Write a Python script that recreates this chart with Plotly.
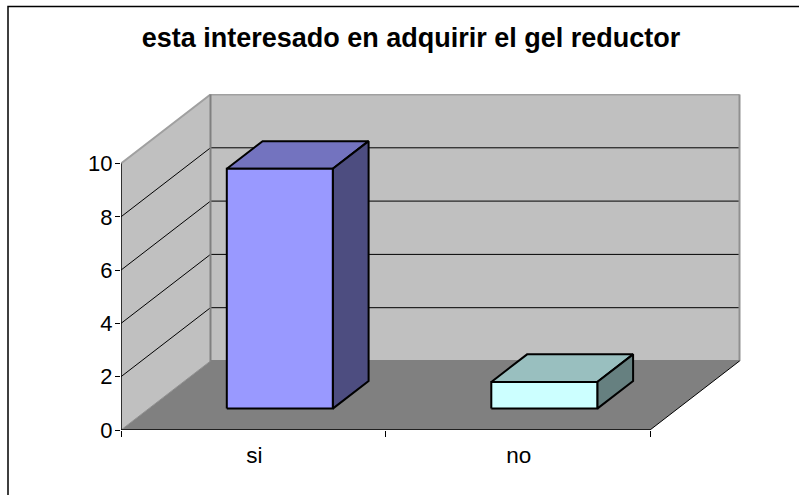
import plotly.graph_objects as go

title_text = "esta interesado en adquirir el gel reductor"
categories = ["si", "no"]
values = [9, 1]
y_ticks = [0, 2, 4, 6, 8, 10]

FRONT = ["#9999FF", "#CCFFFF"]
TOP = ["#7373BF", "#99BFBF"]
SIDE = ["#4D4D80", "#668080"]

# oblique projection of the 3D box, expressed in axis units
PX_X, PX_Y = 264.5, 26.65
DX, DY = 89.5 / PX_X, 69 / PX_Y
BAR_HALF = 53 / PX_X
BAR_SHIFT = -1.2 / PX_X
BAR_D0, BAR_D1 = 0.31, 0.71
W, H = 799, 495
L, R, T, B = 121, 58, 94, 65
N = len(categories)
YMAX = max(y_ticks)


def p(x, y, d):
    return x + d * DX, y + d * DY


fig = go.Figure()


def poly(pts, fill=None, line=None, width=1):
    xs, ys = zip(*pts)
    closed = fill is not None
    fig.add_trace(go.Scatter(
        x=list(xs) + ([xs[0]] if closed else []),
        y=list(ys) + ([ys[0]] if closed else []),
        mode="lines",
        fill="toself" if closed else None,
        fillcolor=fill,
        line=dict(color=line or "rgba(0,0,0,0)", width=width),
        hoverinfo="skip",
        showlegend=False,
    ))


# walls and floor
poly([p(0, 0, 1), p(N, 0, 1), p(N, YMAX, 1), p(0, YMAX, 1)], "#C0C0C0")
poly([p(0, 0, 0), p(0, YMAX, 0), p(0, YMAX, 1), p(0, 0, 1)], "#C0C0C0")
poly([p(0, 0, 0), p(N, 0, 0), p(N, 0, 1), p(0, 0, 1)], "#808080")

# gridlines
for v in y_ticks[1:-1]:
    poly([p(0, v, 0), p(0, v, 1), p(N, v, 1)], line="#000000", width=1)

# wall edges
poly([p(0, YMAX, 0), p(0, YMAX, 1), p(N, YMAX, 1)], line="#A0A0A0", width=2)
poly([p(N, YMAX, 1), p(N, 0, 1)], line="#909090", width=2)
poly([p(0, YMAX, 1), p(0, 0, 1), p(N, 0, 1)], line="#808080", width=2)
poly([p(0, 0, 0), p(0, 0, 1)], line="#909090", width=1)
poly([p(N, 0, 0), p(N, 0, 1)], line="#000000", width=1)

# bars
for i, v in enumerate(values):
    c = i + 0.5 + BAR_SHIFT
    a, b = c - BAR_HALF, c + BAR_HALF
    poly([p(a, v, BAR_D0), p(b, v, BAR_D0), p(b, v, BAR_D1), p(a, v, BAR_D1)],
         TOP[i], "#000000", 2)
    poly([p(b, 0, BAR_D0), p(b, v, BAR_D0), p(b, v, BAR_D1), p(b, 0, BAR_D1)],
         SIDE[i], "#000000", 2)
    poly([p(a, 0, BAR_D0), p(b, 0, BAR_D0), p(b, v, BAR_D0), p(a, v, BAR_D0)],
         FRONT[i], "#000000", 2)

# axis lines
poly([p(0, 0, 0), p(N, 0, 0)], line="#000000", width=1.5)
poly([p(0, 0, 0), p(0, YMAX, 0)], line="#000000", width=1.5)

plot_w = W - L - R
plot_h = H - T - B
fig.update_layout(
    width=W,
    height=H,
    autosize=False,
    margin=dict(l=L, r=R, t=T, b=B, pad=0),
    paper_bgcolor="#FFFFFF",
    plot_bgcolor="rgba(0,0,0,0)",
    showlegend=False,
    font=dict(family="Liberation Sans", color="#000000"),
    title=dict(
        text=f"<b>{title_text}</b>",
        x=411 / W, xanchor="center",
        y=1 - 37.5 / H, yanchor="middle",
        font=dict(size=27, family="Liberation Sans", color="#000000"),
    ),
    xaxis=dict(
        range=[0, plot_w / PX_X],
        showgrid=False, zeroline=False, showline=False,
        tickmode="array",
        tickvals=[i + 0.5 for i in range(N)],
        ticktext=categories,
        ticks="",
        ticklen=0,
        tickfont=dict(size=22.5),
        ticklabelstandoff=9,
        ticklabelshift=1,
        minor=dict(tickmode="array", tickvals=list(range(N + 1)), ticks="outside",
                   ticklen=6, tickwidth=1, tickcolor="#000000", showgrid=False),
        automargin=False,
    ),
    yaxis=dict(
        range=[0, plot_h / PX_Y],
        showgrid=False, zeroline=False, showline=False,
        tickmode="array",
        tickvals=y_ticks,
        ticks="outside", ticklen=5, tickwidth=1, tickcolor="#000000",
        tickfont=dict(size=22),
        ticklabelstandoff=-2,
        automargin=False,
    ),
    shapes=[dict(type="rect", xref="paper", yref="paper",
                 x0=(8 - L) / plot_w, x1=(W + 20 - L) / plot_w,
                 y0=(H - 520 - B) / plot_h, y1=(H - 6.5 - B) / plot_h,
                 line=dict(color="#000000", width=1.5), layer="below")],
)

fig.write_html(
    "out.html",
    config={"displayModeBar": False},
    post_script="document.body.style.margin='0';document.body.style.overflow='hidden';",
)
